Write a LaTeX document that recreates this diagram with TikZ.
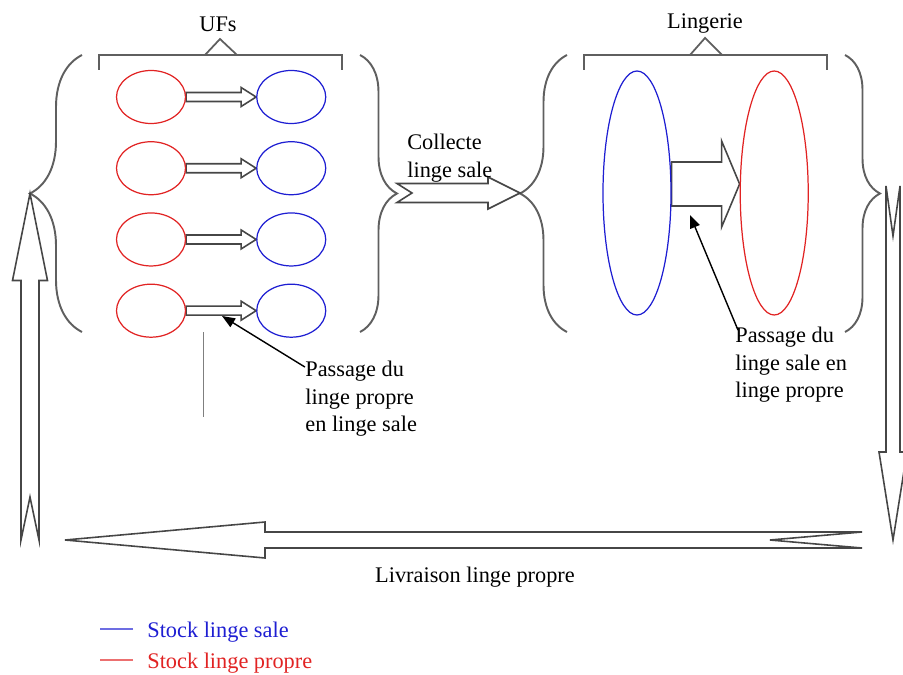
\documentclass[tikz,border=0pt]{standalone}
\usepackage{fontspec}
\setmainfont{Liberation Serif}
\usetikzlibrary{shapes.geometric,arrows.meta,positioning,calc,backgrounds,
                decorations.pathreplacing}
\definecolor{stockblue}{RGB}{30,30,210}
\definecolor{stockred}{RGB}{225,35,35}
\definecolor{framegray}{RGB}{95,95,95}
\definecolor{arrowgray}{RGB}{70,70,70}
\tikzset{
  sale/.style    ={ellipse, draw=stockblue, line width=0.7pt, inner sep=0pt},
  propre/.style  ={ellipse, draw=stockred, line width=0.7pt, inner sep=0pt},
  ufsize/.style  ={minimum width=13.8mm, minimum height=10.6mm},
  lingsize/.style={minimum width=13.6mm, minimum height=48.8mm},
  blockline/.style={draw=arrowgray, line width=0.9pt, fill=white},
  curly/.style   ={decorate, decoration={brace, amplitude=#1}, draw=framegray, line width=1.1pt},
  bracket/.style ={draw=framegray, line width=1pt},
  annot/.style   ={-{Triangle[length=2.6mm, width=2mm]}, line width=0.8pt, black},
  txt/.style     ={font=\fontsize{12.7}{15.6}\selectfont, inner sep=0pt, align=left},
  legline/.style ={line width=0.9pt}
}
% block arrow: tail, tip, half shaft, half head, head length, notch depth
\newcommand{\fatarrow}[6]{%
  \coordinate (fa-h) at ($(#2)!#5!(#1)$);
  \coordinate (fa-n) at ($(#1)!#6!(#2)$);
  \draw[blockline] ($(#1)!#3!90:(#2)$) -- ($(fa-h)!#3!90:(#2)$) -- ($(fa-h)!#4!90:(#2)$)
    -- (#2) -- ($(fa-h)!#4!-90:(#2)$) -- ($(fa-h)!#3!-90:(#2)$) -- ($(#1)!#3!-90:(#2)$)
    -- (fa-n) -- cycle;}

\begin{document}
\begin{tikzpicture}[x=0.2mm, y=-0.2mm]
\useasboundingbox (0,0) rectangle (903,675);
\clip (0,0) rectangle (903,675);

% ---- UFs ----
\node[propre, ufsize] (r1) at (151,97) {};
\node[propre, ufsize, below=3.4mm of r1] (r2) {};
\node[propre, ufsize, below=3.4mm of r2] (r3) {};
\node[propre, ufsize, below=3.4mm of r3] (r4) {};
\foreach \i in {1,...,4} {\node[sale, ufsize, right=14mm of r\i] (b\i) {};}
\begin{scope}[on background layer]
\foreach \i in {1,...,4} {\fatarrow{r\i.east}{b\i.west}{0.9mm}{1.9mm}{3mm}{0mm}}
\end{scope}
\draw[bracket] (99,70) |- (342,55) -- (342,70);
\draw[bracket] (205,55) -- (220,39) -- (237,55);
\node[txt] (ufs) at (218,24) {UFs};
\draw[curly=10.4mm] (82,332) -- (82,55);
\draw[curly=7.4mm] (360,55) -- (360,332);
\coordinate (ufL) at (30,193.5);
\coordinate (ufR) at (397,193);

% ---- Lingerie ----
\node[sale, lingsize] (lb) at (637,193) {};
\node[propre, lingsize, right=13.6mm of lb] (lr) {};
\coordinate (lgA) at ([yshift=1.8mm]lb.east);
\coordinate (lgB) at ([yshift=1.8mm]lr.west);
\begin{scope}[on background layer]
\fatarrow{lgA}{lgB}{4.4mm}{8.6mm}{3.6mm}{0mm}
\end{scope}
\draw[bracket] (584,70) |- (827,55) -- (827,70);
\draw[bracket] (690,55) -- (705,38) -- (722,55);
\node[txt] (lingerie) at (705,24) {Lingerie};
\draw[curly=9.4mm] (567,332) -- (567,55);
\draw[curly=7mm] (845,55) -- (845,332);
\coordinate (lgL) at (520,193);

% ---- Flux ----
\fatarrow{ufR}{lgL}{1.9mm}{3.2mm}{6.4mm}{3mm}
\node[txt, anchor=west] (collecte) at (407,158) {Collecte\\linge sale};

\coordinate (upTail) at (30,540);
\fatarrow{upTail}{ufL}{1.8mm}{3.5mm}{17.4mm}{8.6mm}
\coordinate (downTail) at (893,186);
\coordinate (downTip) at (893,540);
\fatarrow{downTail}{downTip}{1.4mm}{2.8mm}{17.6mm}{10mm}
\coordinate (backTail) at (862,540);
\coordinate (backTip) at (65,540);
\fatarrow{backTail}{backTip}{1.6mm}{3.6mm}{40mm}{18.4mm}
\node[txt] (livraison) at (475,577) {Livraison linge propre};

% ---- Annotations ----
\node[txt, anchor=west] (passufs) at (305,399) {Passage du\\linge propre\\en linge sale};
\coordinate (passufsTip) at (222,316);
\draw[annot] ([yshift=-1.2mm]passufs.north west) -- (passufsTip);
\node[txt, anchor=west] (passling) at (735,365) {Passage du\\linge sale en\\linge propre};
\coordinate (passlingTip) at (690,215);
\draw[annot] ([xshift=0.6mm, yshift=-0.6mm]passling.north west) -- (passlingTip);
\coordinate (tickA) at (203,332);
\coordinate (tickB) at (203,417);
\draw[framegray!80, line width=0.5pt] (tickA) -- (tickB);

% ---- Legend ----
\node[txt, text=stockblue, anchor=west] (legsale) at (147,632) {Stock linge sale};
\node[txt, text=stockred, anchor=west] (legpropre) at (147,663) {Stock linge propre};
\draw[legline, stockblue!65] ([xshift=-2.8mm, yshift=0.6mm]legsale.west) -- ++(-33,0);
\draw[legline, stockred!65] ([xshift=-2.8mm, yshift=0.6mm]legpropre.west) -- ++(-33,0);
\end{tikzpicture}
\end{document}
